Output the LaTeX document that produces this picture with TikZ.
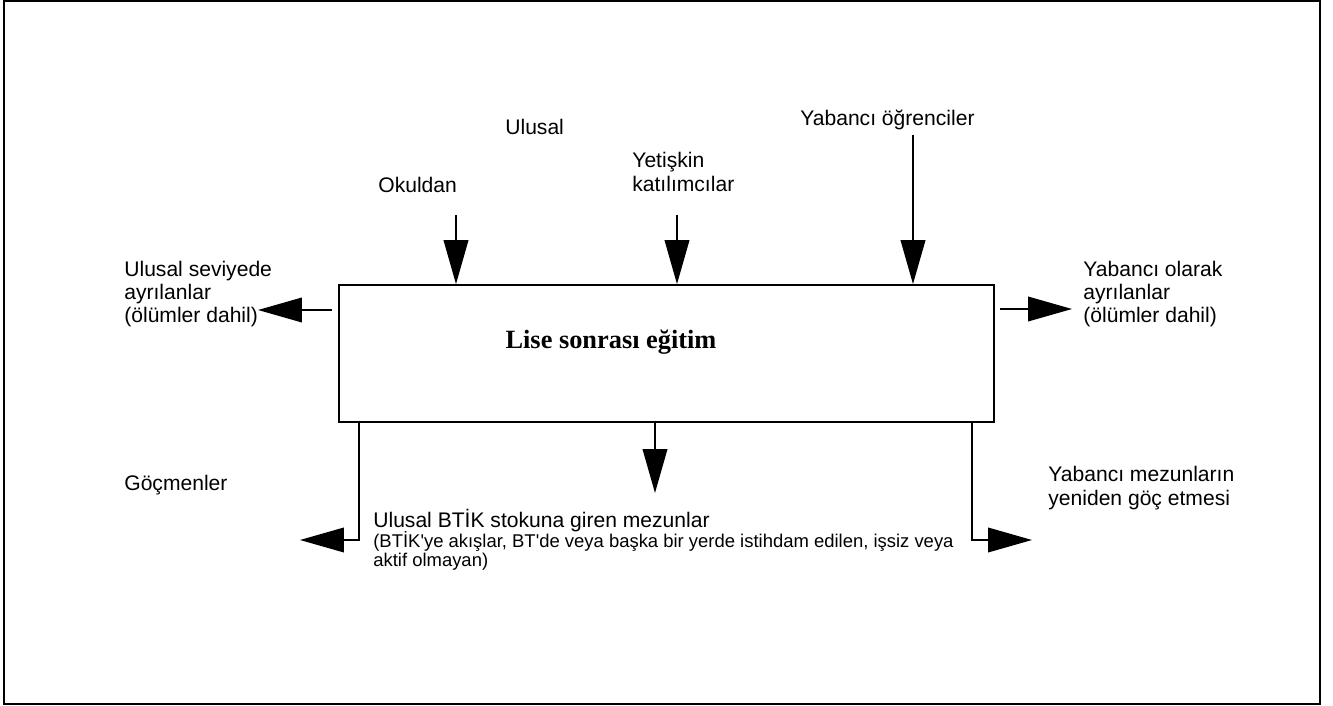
\documentclass[tikz,border=0pt]{standalone}
\usepackage{fontspec}
\setmainfont{Liberation Sans}
\newfontfamily\baslikfont{Liberation Serif}
\usetikzlibrary{arrows.meta}

\begin{document}
\begin{tikzpicture}[x=0.02cm, y=-0.02cm,
    akis/.style={line width=1pt, -{Triangle[length=25pt, width=14pt]}},
    etiket/.style={anchor=west, align=left, inner sep=0pt, font=\fontsize{12}{13.3}\selectfont},
    aciklama/.style={etiket, font=\fontsize{10.5}{11}\selectfont}]
    % Cerceve
    \useasboundingbox (0,0) rectangle (1333,706);
    \draw[line width=1.2pt] (4,1) rectangle (1320,704);

    % Ana kutu
    \node[draw, line width=1pt, minimum width=13.1cm, minimum height=2.74cm, inner sep=0pt] (egitim) at (666.5,353.5) {};
    \node[font=\baslikfont\bfseries\fontsize{15}{18}\selectfont] (baslik) at (611,342) {Lise sonrası eğitim};

    % Girisler (ust)
    \node[etiket] (ulusal) at (505,127) {Ulusal};
    \node[etiket] (okuldan) at (378,185) {Okuldan};
    \node[etiket] (yetiskin) at (632,172) {Yetişkin\\katılımcılar};
    \node[etiket] (yabanci) at (800,120) {Yabancı öğrenciler};
    \coordinate (okulBas) at (456,215);
    \coordinate (yetBas) at (677,215);
    \coordinate (yabBas) at (913,135);
    \draw[akis] (okulBas) -- (okulBas |- egitim.north);
    \draw[akis] (yetBas) -- (yetBas |- egitim.north);
    \draw[akis] (yabBas) -- (yabBas |- egitim.north);

    % Ayrilanlar (yanlar)
    \node[etiket] (ulusAyr) at (124,294) {Ulusal seviyede\\ayrılanlar\\(ölümler dahil)};
    \node[etiket] (yabAyr) at (1083,294) {Yabancı olarak\\ayrılanlar\\(ölümler dahil)};
    \coordinate (solBas) at (332,310);
    \coordinate (solUc) at (258,310);
    \coordinate (sagBas) at (1000,309);
    \coordinate (sagUc) at (1072,309);
    \draw[akis] (solBas) -- (solUc);
    \draw[akis] (sagBas) -- (sagUc);

    % Cikislar (alt)
    \node[etiket] (gocmen) at (124,485) {Göçmenler};
    \node[etiket] (mezun) at (373,521) {Ulusal BTİK stokuna giren mezunlar};
    \node[aciklama, anchor=north west] (mezunAlt) at (373,531) {(BTİK\textquotesingle ye akışlar, BT\textquotesingle de veya başka bir yerde istihdam edilen, işsiz veya\\aktif olmayan)};
    \node[etiket] (yabMezun) at (1048,488) {Yabancı mezunların\\yeniden göç etmesi};
    \coordinate (ortaUc) at (655,493);
    \coordinate (altSol) at (359,540);
    \coordinate (altSolUc) at (300,540);
    \coordinate (altSag) at (972,540);
    \coordinate (altSagUc) at (1032,540);
    \draw[akis] (ortaUc |- egitim.south) -- (ortaUc);
    \draw[akis] (altSol |- egitim.south) -- (altSol) -- (altSolUc);
    \draw[akis] (altSag |- egitim.south) -- (altSag) -- (altSagUc);
\end{tikzpicture}
\end{document}
